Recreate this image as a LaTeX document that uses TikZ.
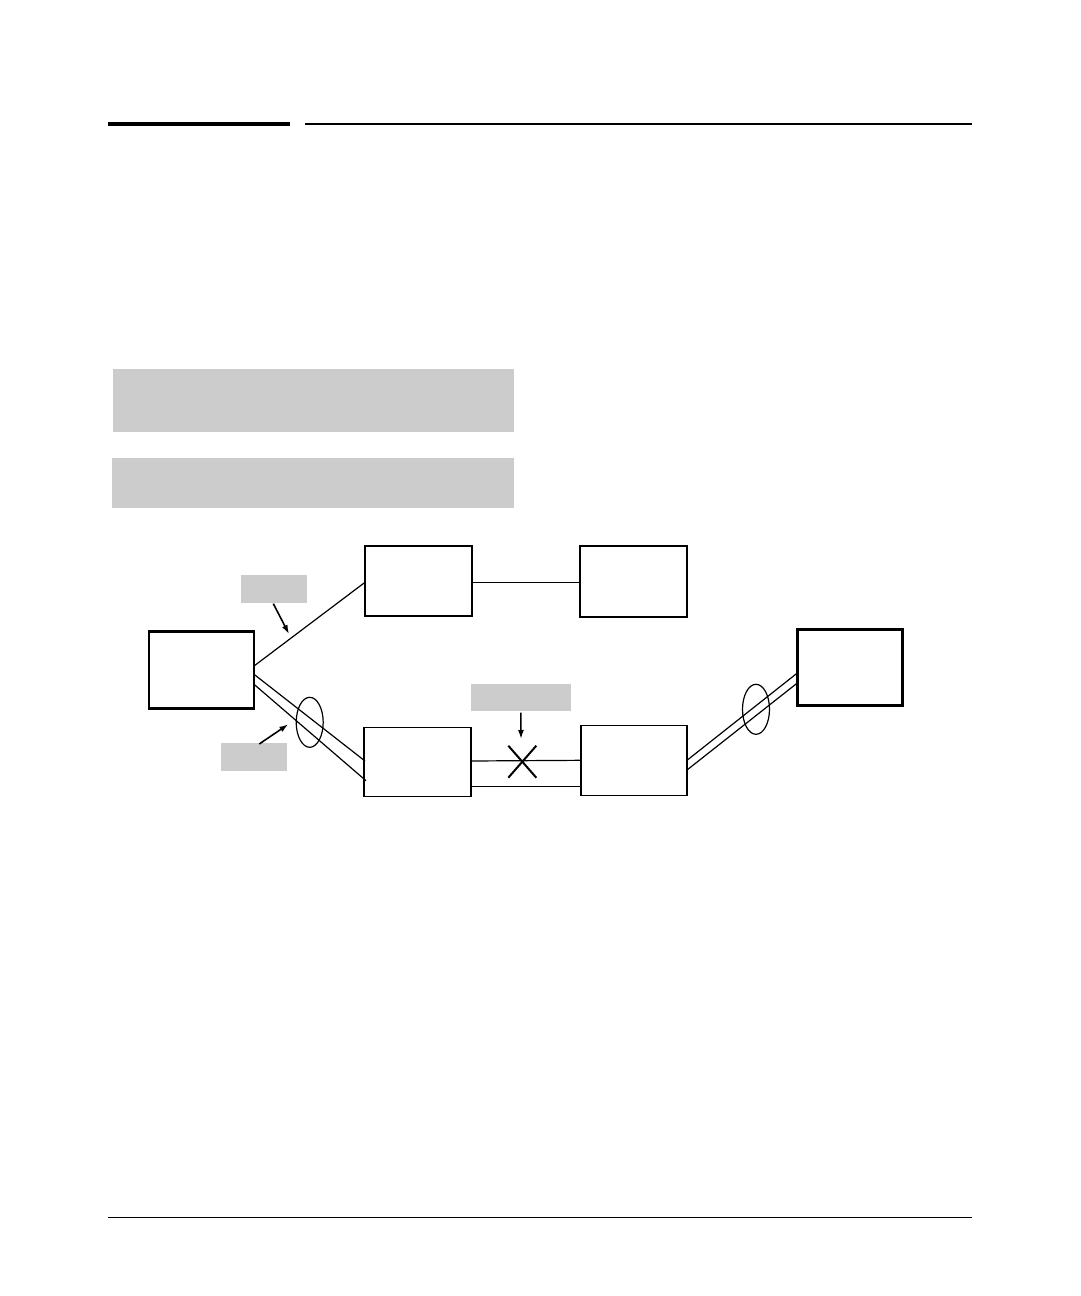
\documentclass[tikz,border=0pt]{standalone}
\usetikzlibrary{shapes.geometric,arrows.meta,calc}
\definecolor{lblgray}{HTML}{CCCCCC}
\begin{document}
\begin{tikzpicture}[x=1pt,y=-1pt,
  thinbox/.style={draw=black,line width=1.4pt,fill=white,inner sep=0pt,outer sep=0pt,rectangle},
  thickbox/.style={draw=black,line width=2.8pt,fill=white,inner sep=0pt,outer sep=0pt,rectangle},
  graylbl/.style={fill=lblgray,draw=none,inner sep=0pt,outer sep=0pt,rectangle},
  link/.style={draw=black,line width=1.2pt},
  ring/.style={draw=black,line width=1.2pt,ellipse,inner sep=0pt,minimum width=27pt,minimum height=50pt},
  pointer/.style={draw=black,line width=1.6pt,-{Latex[length=9pt,width=6pt]}}]
\useasboundingbox (0,0) rectangle (1080,1296);
\fill[white] (0,0) rectangle (1080,1296);
% header and footer rules
\draw[line width=4.3pt] (108,124) -- (290,124);
\draw[line width=2pt] (305,124) -- (972,124);
\draw[line width=1.4pt] (108,1217.3) -- (972,1217.3);
% large gray blocks
\node[graylbl,minimum width=401pt,minimum height=63pt] (GB1) at (313.5,400.5) {};
\node[graylbl,minimum width=402pt,minimum height=50pt] (GB2) at (313,483) {};
% switches
\node[thickbox,minimum width=105pt,minimum height=77pt] (A) at (201.5,670.3) {};
\node[thinbox,minimum width=107pt,minimum height=70pt] (B) at (418.5,580.8) {};
\node[thinbox,minimum width=107pt,minimum height=71pt] (C) at (633.5,581.3) {};
\node[thinbox,minimum width=107pt,minimum height=69pt] (D) at (417.5,762) {};
\node[thinbox,minimum width=106pt,minimum height=70pt] (E) at (634,760.3) {};
\node[thickbox,minimum width=105pt,minimum height=76pt] (F) at (850.2,667.3) {};
% links
\draw[link] ([yshift=4.3pt]A.east) -- ([yshift=-1.5pt]B.west);
\draw[link] ([yshift=-1.5pt]B.east) -- ([yshift=-1pt]C.west);
\draw[link] ([yshift=-4pt]A.east) -- ([yshift=1pt,xshift=1pt]D.west);
\draw[link] ([yshift=-14pt]A.east) -- ([yshift=-18.7pt,xshift=2pt]D.west);
\draw[link] ([yshift=1pt]D.east) -- ([yshift=0.7pt,xshift=0pt]E.west |- 0,761);
\draw[link] ([yshift=-24.3pt]D.east) -- (E.west |- 0,786.3);
\draw[link] (E.east) -- ([yshift=-5.4pt]F.west);
\draw[link] ([yshift=-9.7pt]E.east) -- ([yshift=-15.4pt]F.west);
% trunk rings
\node[ring] (R1) at (309.7,722.3) {};
\node[ring] (R2) at (756,709.3) {};
% gray labels and pointers
\node[graylbl,minimum width=65.7pt,minimum height=27.7pt] (L1) at (273.8,588.8) {};
\node[graylbl,minimum width=65.7pt,minimum height=27.7pt] (L2) at (253.8,756.8) {};
\node[graylbl,minimum width=99.7pt,minimum height=26.7pt] (L3) at (520.8,697.3) {};
\coordinate (P1) at (289,634);
\coordinate (P2) at (288.3,724.3);
\coordinate (P3) at (521,739);
\draw[pointer] ([xshift=-0.5pt,yshift=-1pt]L1.south) -- (P1);
\draw[pointer] ([xshift=5.5pt,yshift=-1pt]L2.north) -- (P2);
\draw[pointer] ([yshift=-2pt]L3.south) -- (P3);
% blocked mark
\coordinate (X) at (522.3,761.7);
\draw[line width=2pt] ($(X)+(-14,-16)$) -- ($(X)+(14,16)$);
\draw[line width=2pt] ($(X)+(-14,16)$) -- ($(X)+(14,-16)$);
\end{tikzpicture}
\end{document}
